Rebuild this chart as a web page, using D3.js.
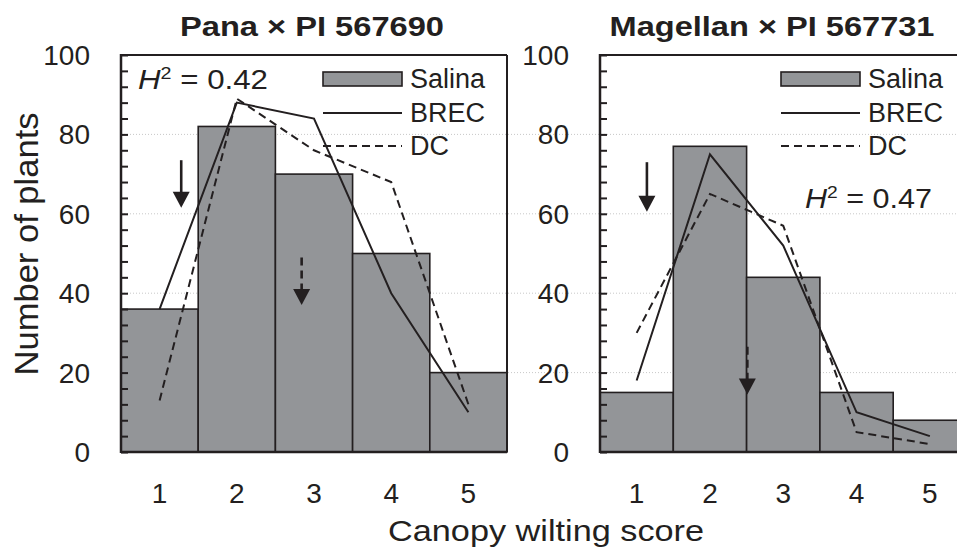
<!DOCTYPE html>
<html>
<head>
<meta charset="utf-8">
<script src="https://cdn.jsdelivr.net/npm/d3@7"></script>
<style>
  body { margin: 0; background: #fff; }
  svg text { font-family: "Liberation Sans", Arial, sans-serif; fill: #231f20; }
</style>
</head>
<body>
<div id="chart"></div>
<script>
// data
var scores = [1, 2, 3, 4, 5];
var yTicks = [0, 20, 40, 60, 80, 100];

var panaSalina = [36, 82, 70, 50, 20];
var panaBrec   = [36, 88, 84, 40, 10];
var panaDc     = [13, 89, 76, 68, 12];
// parent means (x, top, tip) - solid and dashed arrow
var panaArrows = [[1.28, 73.5, 61.5, false], [2.84, 49, 37, true]];

var magSalina = [15, 77, 44, 15, 8];
var magBrec   = [18, 75, 52, 10, 4];
var magDc     = [30, 65, 57, 5, 2];
var magArrows = [[1.14, 73, 60.5, false], [2.51, 26.5, 14.5, true]];

var ink = "#231f20";
var W = 957, H = 549;

var svg = d3.select("#chart").append("svg")
    .attr("width", W)
    .attr("height", H);

var y = d3.scaleLinear().domain([0, 100]).range([452, 55]);

// faint dotted grid, runs across the whole figure
svg.append("g").selectAll("line")
    .data([20, 40, 60, 80])
    .enter().append("line")
    .attr("x1", 121).attr("x2", W)
    .attr("y1", function(d){ return y(d); })
    .attr("y2", function(d){ return y(d); })
    .style("stroke", "#c8c8c8")
    .style("stroke-width", 1)
    .style("stroke-dasharray", "1,2");

function panel(opt) {
  var x = d3.scaleLinear().domain([0.5, 5.5]).range([opt.x0, opt.x1]);
  var g = svg.append("g");

  // bars
  g.selectAll("rect.bar")
      .data(opt.salina)
      .enter().append("rect")
      .attr("class", "bar")
      .attr("x", function(d, i){ return x(scores[i] - 0.5); })
      .attr("width", function(d, i){ return x(scores[i] + 0.5) - x(scores[i] - 0.5); })
      .attr("y", function(d){ return y(d); })
      .attr("height", function(d){ return y(0) - y(d); })
      .style("fill", "#939598")
      .style("stroke", ink)
      .style("stroke-width", 1.6);

  var line = d3.line()
      .x(function(d, i){ return x(scores[i]); })
      .y(function(d){ return y(d); });

  g.append("path").datum(opt.brec)
      .attr("d", line)
      .style("fill", "none").style("stroke", ink).style("stroke-width", 2);
  g.append("path").datum(opt.dc)
      .attr("d", line)
      .style("fill", "none").style("stroke", ink).style("stroke-width", 2)
      .style("stroke-dasharray", "8,5");

  // frame: top and right
  g.append("line")
      .attr("x1", opt.x0).attr("x2", opt.x1)
      .attr("y1", y(100)).attr("y2", y(100))
      .style("stroke", ink).style("stroke-width", 2);
  g.append("line")
      .attr("x1", opt.x1).attr("x2", opt.x1)
      .attr("y1", y(100)).attr("y2", y(0))
      .style("stroke", ink).style("stroke-width", 2);

  // y axis, ticks inward every 4 units
  var yAxis = d3.axisRight(y).tickValues(d3.range(0, 101, 4)).tickSize(7).tickFormat("");
  var ya = g.append("g").attr("transform", "translate(" + opt.x0 + ",0)").call(yAxis);
  ya.select(".domain").remove();
  ya.selectAll("line").style("stroke", ink).style("stroke-width", 2);
  g.append("line")
      .attr("x1", opt.x0).attr("x2", opt.x0)
      .attr("y1", y(100) - 1).attr("y2", y(0) + 1)
      .style("stroke", ink).style("stroke-width", 2.5);
  g.append("line")
      .attr("x1", opt.x0).attr("x2", opt.x1)
      .attr("y1", y(0)).attr("y2", y(0))
      .style("stroke", ink).style("stroke-width", 2.5);

  g.selectAll("text.ytick")
      .data(yTicks)
      .enter().append("text")
      .attr("class", "ytick")
      .attr("x", opt.x0 - 31)
      .attr("y", function(d){ return y(d) + 10; })
      .attr("text-anchor", "end")
      .style("font-size", "28px")
      .text(function(d){ return d; });

  g.selectAll("text.xtick")
      .data(scores)
      .enter().append("text")
      .attr("class", "xtick")
      .attr("x", function(d){ return x(d); })
      .attr("y", 503)
      .attr("text-anchor", "middle")
      .style("font-size", "28px")
      .text(function(d){ return d; });

  // arrows
  opt.arrows.forEach(function(a) {
    var ax = x(a[0]);
    g.append("line")
        .attr("x1", ax).attr("x2", ax)
        .attr("y1", y(a[1])).attr("y2", y(a[2]) - 12)
        .style("stroke", ink).style("stroke-width", 2.6)
        .style("stroke-dasharray", a[3] ? "8,5" : null);
    g.append("path")
        .attr("d", "M" + (ax - 8.5) + "," + (y(a[2]) - 16) + "L" + (ax + 8.5) + "," + (y(a[2]) - 16) + "L" + ax + "," + y(a[2]) + "Z")
        .style("fill", ink);
  });

  // title
  g.append("text")
      .attr("x", opt.titleX).attr("y", 36)
      .attr("text-anchor", "middle")
      .style("font-size", "27px").style("font-weight", "bold")
      .attr("textLength", opt.titleW).attr("lengthAdjust", "spacingAndGlyphs")
      .text(opt.title);

  // legend
  var lx = opt.legX;
  g.append("rect")
      .attr("x", lx).attr("y", 72).attr("width", 79).attr("height", 14)
      .style("fill", "#939598").style("stroke", ink).style("stroke-width", 1.6);
  g.append("line").attr("x1", lx).attr("x2", lx + 79).attr("y1", 113).attr("y2", 113)
      .style("stroke", ink).style("stroke-width", 2);
  g.append("line").attr("x1", lx).attr("x2", lx + 79).attr("y1", 146).attr("y2", 146)
      .style("stroke", ink).style("stroke-width", 2).style("stroke-dasharray", "8,5");
  var legNames = ["Salina", "BREC", "DC"];
  g.selectAll("text.leg")
      .data(legNames)
      .enter().append("text")
      .attr("class", "leg")
      .attr("x", lx + 87)
      .attr("y", function(d, i){ return 88 + i * 33.5; })
      .style("font-size", "27px")
      .text(function(d){ return d; });

  // heritability
  var h = g.append("text")
      .attr("x", opt.hX).attr("y", opt.hY)
      .style("font-size", "27px")
      .attr("textLength", opt.hW).attr("lengthAdjust", "spacingAndGlyphs");
  h.append("tspan").style("font-style", "italic").text("H");
  h.append("tspan").attr("dy", -10).style("font-size", "17px").text("2");
  h.append("tspan").attr("dy", 10).text(" = " + opt.h2);
}

panel({
  x0: 121, x1: 507,
  salina: panaSalina, brec: panaBrec, dc: panaDc, arrows: panaArrows,
  title: "Pana \u00d7 PI 567690", titleX: 312, titleW: 264,
  legX: 323, hX: 138, hY: 89, hW: 130, h2: "0.42"
});

panel({
  x0: 600, x1: 966.5,
  salina: magSalina, brec: magBrec, dc: magDc, arrows: magArrows,
  title: "Magellan \u00d7 PI 567731", titleX: 772, titleW: 325,
  legX: 781, hX: 805, hY: 208, hW: 127, h2: "0.47"
});

// axis titles
svg.append("text")
    .attr("transform", "translate(38,244) rotate(-90)")
    .attr("text-anchor", "middle")
    .style("font-size", "33px")
    .attr("textLength", 263).attr("lengthAdjust", "spacingAndGlyphs")
    .text("Number of plants");

svg.append("text")
    .attr("x", 546).attr("y", 541)
    .attr("text-anchor", "middle")
    .style("font-size", "30px")
    .attr("textLength", 316).attr("lengthAdjust", "spacingAndGlyphs")
    .text("Canopy wilting score");
</script>
</body>
</html>
